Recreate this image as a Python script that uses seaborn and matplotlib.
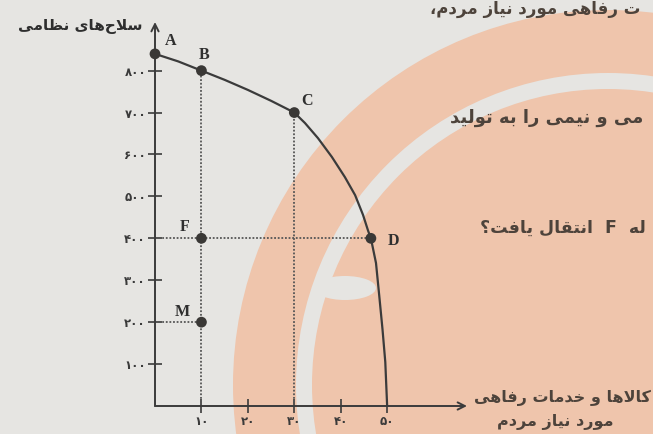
import numpy as np
import pandas as pd
import seaborn as sns

from matplotlib import pyplot as plt
from matplotlib.patches import Circle, Ellipse

# Kurve der Produktionsmöglichkeiten
kurve_x = [0, 5, 10, 15, 20, 25, 30, 32.3, 35.1, 38.1, 40.9, 43.1, 44.8, 45.9, 46.5,
           47.6, 48.3, 49, 49.6, 50]
kurve_y = [840, 822, 800, 778, 754, 728, 700, 675, 639, 594, 546, 503, 456, 418, 400,
           341, 263, 183, 105, 0]

# die beschrifteten Punkte
punkt_namen = ['A', 'B', 'C', 'D', 'F', 'M']
punkt_x = [0, 10, 30, 46.5, 10, 10]
punkt_y = [840, 800, 700, 400, 400, 200]
# Versatz der Buchstaben in Punkten
punkt_offset = [(11, 9), (2, 11), (9, 8), (16, -2), (-12, 8), (-14, 7)]

x_ticks = [10, 20, 30, 40, 50]
x_tick_labels = ['۱۰', '۲۰', '۳۰', '۴۰', '۵۰']
y_ticks = [100, 200, 300, 400, 500, 600, 700, 800]
y_tick_labels = ['۱۰۰', '۲۰۰', '۳۰۰', '۴۰۰', '۵۰۰', '۶۰۰', '۷۰۰', '۸۰۰']

y_titel = 'سلاح\u200cهای نظامی'
x_titel_1 = 'کالاها و خدمات رفاهی'
x_titel_2 = 'مورد نیاز مردم'
# Textreste der Buchseite rechts
seite_1 = 'ت رفاهی مورد نیاز مردم،'
seite_2 = 'می و نیمی را به تولید'
seite_3 = 'لهٔ  F  انتقال یافت؟'

# matplotlib kann kein Arabisch verbinden, also machen wir das von Hand:
# Formen: (isoliert, final, initial, medial)
FORMEN = {
    'ا': ('\uFE8D', '\uFE8E', None, None),
    'ب': ('\uFE8F', '\uFE90', '\uFE91', '\uFE92'),
    'ت': ('\uFE95', '\uFE96', '\uFE97', '\uFE98'),
    'ح': ('\uFEA1', '\uFEA2', '\uFEA3', '\uFEA4'),
    'خ': ('\uFEA5', '\uFEA6', '\uFEA7', '\uFEA8'),
    'د': ('\uFEA9', '\uFEAA', None, None),
    'ر': ('\uFEAD', '\uFEAE', None, None),
    'ز': ('\uFEAF', '\uFEB0', None, None),
    'س': ('\uFEB1', '\uFEB2', '\uFEB3', '\uFEB4'),
    'ظ': ('\uFEC5', '\uFEC6', '\uFEC7', '\uFEC8'),
    'ف': ('\uFED1', '\uFED2', '\uFED3', '\uFED4'),
    'ق': ('\uFED5', '\uFED6', '\uFED7', '\uFED8'),
    'ک': ('\uFB8E', '\uFB8F', '\uFB90', '\uFB91'),
    'ل': ('\uFEDD', '\uFEDE', '\uFEDF', '\uFEE0'),
    'م': ('\uFEE1', '\uFEE2', '\uFEE3', '\uFEE4'),
    'ن': ('\uFEE5', '\uFEE6', '\uFEE7', '\uFEE8'),
    'ه': ('\uFEE9', '\uFEEA', '\uFEEB', '\uFEEC'),
    'و': ('\uFEED', '\uFEEE', None, None),
    'ی': ('\uFEEF', '\uFEF0', '\uFEF3', '\uFEF4'),
}
NUR_RECHTS = set('ادرزو')


def persisch(txt):
    txt = txt.replace('هٔ', 'ه')
    zeichen = list(txt)
    aus = []
    vorher = False
    i = 0
    while i < len(zeichen):
        c = zeichen[i]
        if c not in FORMEN:
            if c != '\u200c':
                aus.append(c)
            vorher = False
            i += 1
            continue
        if c == 'ل' and i + 1 < len(zeichen) and zeichen[i + 1] == 'ا':
            aus.append('\uFEFC' if vorher else '\uFEFB')
            vorher = False
            i += 2
            continue
        naechst = zeichen[i + 1] if i + 1 < len(zeichen) else ''
        weiter = c not in NUR_RECHTS and naechst in FORMEN
        f = FORMEN[c]
        if vorher and weiter:
            aus.append(f[3])
        elif vorher:
            aus.append(f[1])
        elif weiter:
            aus.append(f[2])
        else:
            aus.append(f[0])
        vorher = weiter
        i += 1
    return ''.join(reversed(aus))


sns.set_style('white')
plt.rcParams['font.family'] = ['DejaVu Sans']

linie = '#3b3b3b'
punkt_farbe = '#3a3836'
text_farbe = '#4d433b'
lachs = '#efc5ac'
grau = '#e6e5e2'

fig = plt.figure(figsize=(6.53, 4.34), dpi=100)
fig.patch.set_facecolor(grau)

# Hintergrund in Pixelkoordinaten (Wasserzeichen der Seite)
bg = fig.add_axes([0, 0, 1, 1], zorder=-1)
bg.set_xlim(0, 653)
bg.set_ylim(434, 0)
bg.axis('off')
mitte = (608, 385)
bg.add_patch(Circle(mitte, 375, facecolor=lachs, edgecolor='none'))
bg.add_patch(Circle(mitte, 312, facecolor=grau, edgecolor='none'))
bg.add_patch(Circle(mitte, 296, facecolor=lachs, edgecolor='none'))
bg.add_patch(Ellipse((345, 288), 62, 24, facecolor=grau, edgecolor='none'))

bg.text(430, 0, persisch(seite_1), fontsize=12, fontweight='bold', color=text_farbe,
        ha='left', va='top')
bg.text(450, 118, persisch(seite_2), fontsize=13, fontweight='bold', color=text_farbe,
        ha='left', va='center')
bg.text(480, 228, persisch(seite_3), fontsize=12.5, fontweight='bold', color=text_farbe,
        ha='left', va='center')
bg.text(562, 398, persisch(x_titel_1), fontsize=11.5, fontweight='bold', color=text_farbe,
        ha='center', va='center')
bg.text(555, 422, persisch(x_titel_2), fontsize=11.5, fontweight='bold', color=text_farbe,
        ha='center', va='center')
bg.text(143, 27, persisch(y_titel), fontsize=11, fontweight='bold', color='#2e2e2e',
        ha='right', va='center')

# das eigentliche Diagramm
ax = fig.add_axes([155 / 653, 28 / 434, 312 / 653, 384 / 434])
ax.patch.set_alpha(0)
ax.set_xlim(0, 67.2)
ax.set_ylim(0, 916)

kurve = pd.DataFrame({'x': kurve_x, 'y': kurve_y})
sns.lineplot(data=kurve, x='x', y='y', sort=False, estimator=None, color=linie,
             linewidth=1.6, ax=ax)

punkte = pd.DataFrame({'name': punkt_namen, 'x': punkt_x, 'y': punkt_y})
p = punkte.set_index('name')

# gepunktete Hilfslinien
hilfs = dict(color='#555555', linestyle=(0, (1, 1)), linewidth=1.3, zorder=1)
ax.plot([p.loc['B', 'x']] * 2, [0, p.loc['B', 'y']], **hilfs)
ax.plot([p.loc['C', 'x']] * 2, [0, p.loc['C', 'y']], **hilfs)
ax.plot([0, p.loc['D', 'x']], [p.loc['D', 'y']] * 2, **hilfs)
ax.plot([0, p.loc['M', 'x']], [p.loc['M', 'y']] * 2, **hilfs)

sns.scatterplot(data=punkte, x='x', y='y', color=punkt_farbe, s=60, edgecolor='none',
                zorder=5, clip_on=False, ax=ax)

for name, px, py, off in zip(punkt_namen, punkt_x, punkt_y, punkt_offset):
    ax.annotate(name, (px, py), xytext=off, textcoords='offset points',
                ha='center', va='center', fontsize=11.5, fontweight='bold',
                family='Liberation Serif', color='#2f2f2f', annotation_clip=False)

# Achsen mit Pfeilen
for s in ax.spines.values():
    s.set_visible(False)
pfeil = dict(arrowstyle='->', color=linie, lw=1.4, mutation_scale=13, shrinkA=0, shrinkB=0)
ax.annotate('', xy=(67.2, 0), xytext=(0, 0), arrowprops=pfeil, annotation_clip=False)
ax.annotate('', xy=(0, 916), xytext=(0, 0), arrowprops=pfeil, annotation_clip=False)

ax.set_xticks(x_ticks)
ax.set_xticklabels(x_tick_labels)
ax.set_yticks(y_ticks)
ax.set_yticklabels(y_tick_labels)
ax.tick_params(direction='inout', length=10, width=1.2, color=linie, labelsize=8.5,
               labelcolor='#3a3a3a', pad=1.5, bottom=True, left=True)
for t in ax.get_xticklabels() + ax.get_yticklabels():
    t.set_fontweight('bold')
ax.set_xlabel('')
ax.set_ylabel('')

fig.savefig('out.png', dpi=100)
